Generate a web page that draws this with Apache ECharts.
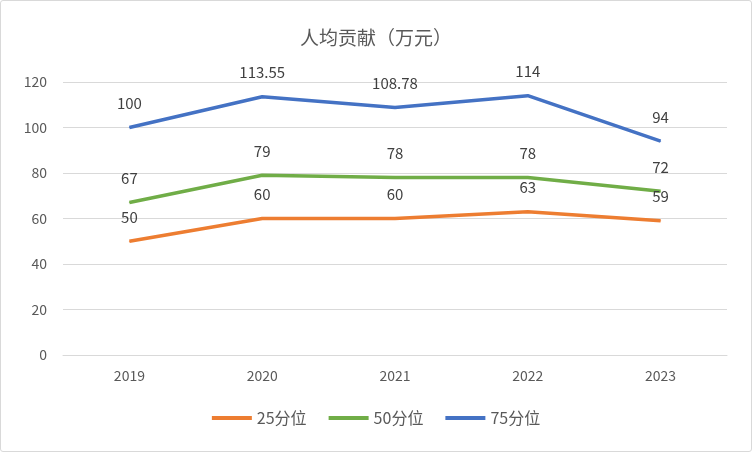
<!DOCTYPE html>
<html><head><meta charset="utf-8">
<script src="https://cdn.jsdelivr.net/npm/echarts@6/dist/echarts.min.js"></script>
<style>html,body{margin:0;padding:0;background:#fff}#c{width:750px;height:450px;border:1px solid #d9d9d9;border-radius:3px}</style>
</head><body><div id="c"></div>
<script>
const categories=['2019','2020','2021','2022','2023'];
const p25=[50,60,60,63,59];
const p50=[67,79,78,78,72];
const p75=[100,113.55,108.78,114,94];
const names=['25分位','50分位','75分位'];
const colors=['#ED7D31','#70AD47','#4472C4'];
const font='"Noto Sans CJK SC","Noto Sans",sans-serif';
const chart=echarts.init(document.getElementById('c'));
const mk=(n,d,c)=>({name:n,type:'line',data:d,symbol:'circle',symbolSize:1,showSymbol:true,showAllSymbol:true,
 lineStyle:{width:3.5,color:c},itemStyle:{color:c},labelLayout:{hideOverlap:false},
 label:{show:true,position:'top',distance:16,fontSize:15,color:'#404040',fontFamily:font}});
chart.setOption({
 animation:false,
 title:{text:'人均贡献（万元）',left:'center',top:22,textStyle:{fontSize:19,fontWeight:'normal',color:'#595959',fontFamily:font}},
 grid:{left:62,right:24,top:81,bottom:96},
 legend:{bottom:20,itemWidth:40,itemHeight:4,itemGap:22,icon:'rect',textStyle:{fontSize:16,color:'#595959',fontFamily:font},data:names},
 xAxis:{type:'category',data:categories,axisTick:{show:false},axisLine:{lineStyle:{color:'#d9d9d9'}},
  axisLabel:{fontSize:14,color:'#595959',margin:14,fontFamily:font}},
 yAxis:{type:'value',min:0,max:120,interval:20,axisLabel:{fontSize:14,color:'#595959',margin:16,fontFamily:font},
  splitLine:{lineStyle:{color:'#d9d9d9'}}},
 series:[mk(names[0],p25,colors[0]),mk(names[1],p50,colors[1]),mk(names[2],p75,colors[2])]
});
</script></body></html>
